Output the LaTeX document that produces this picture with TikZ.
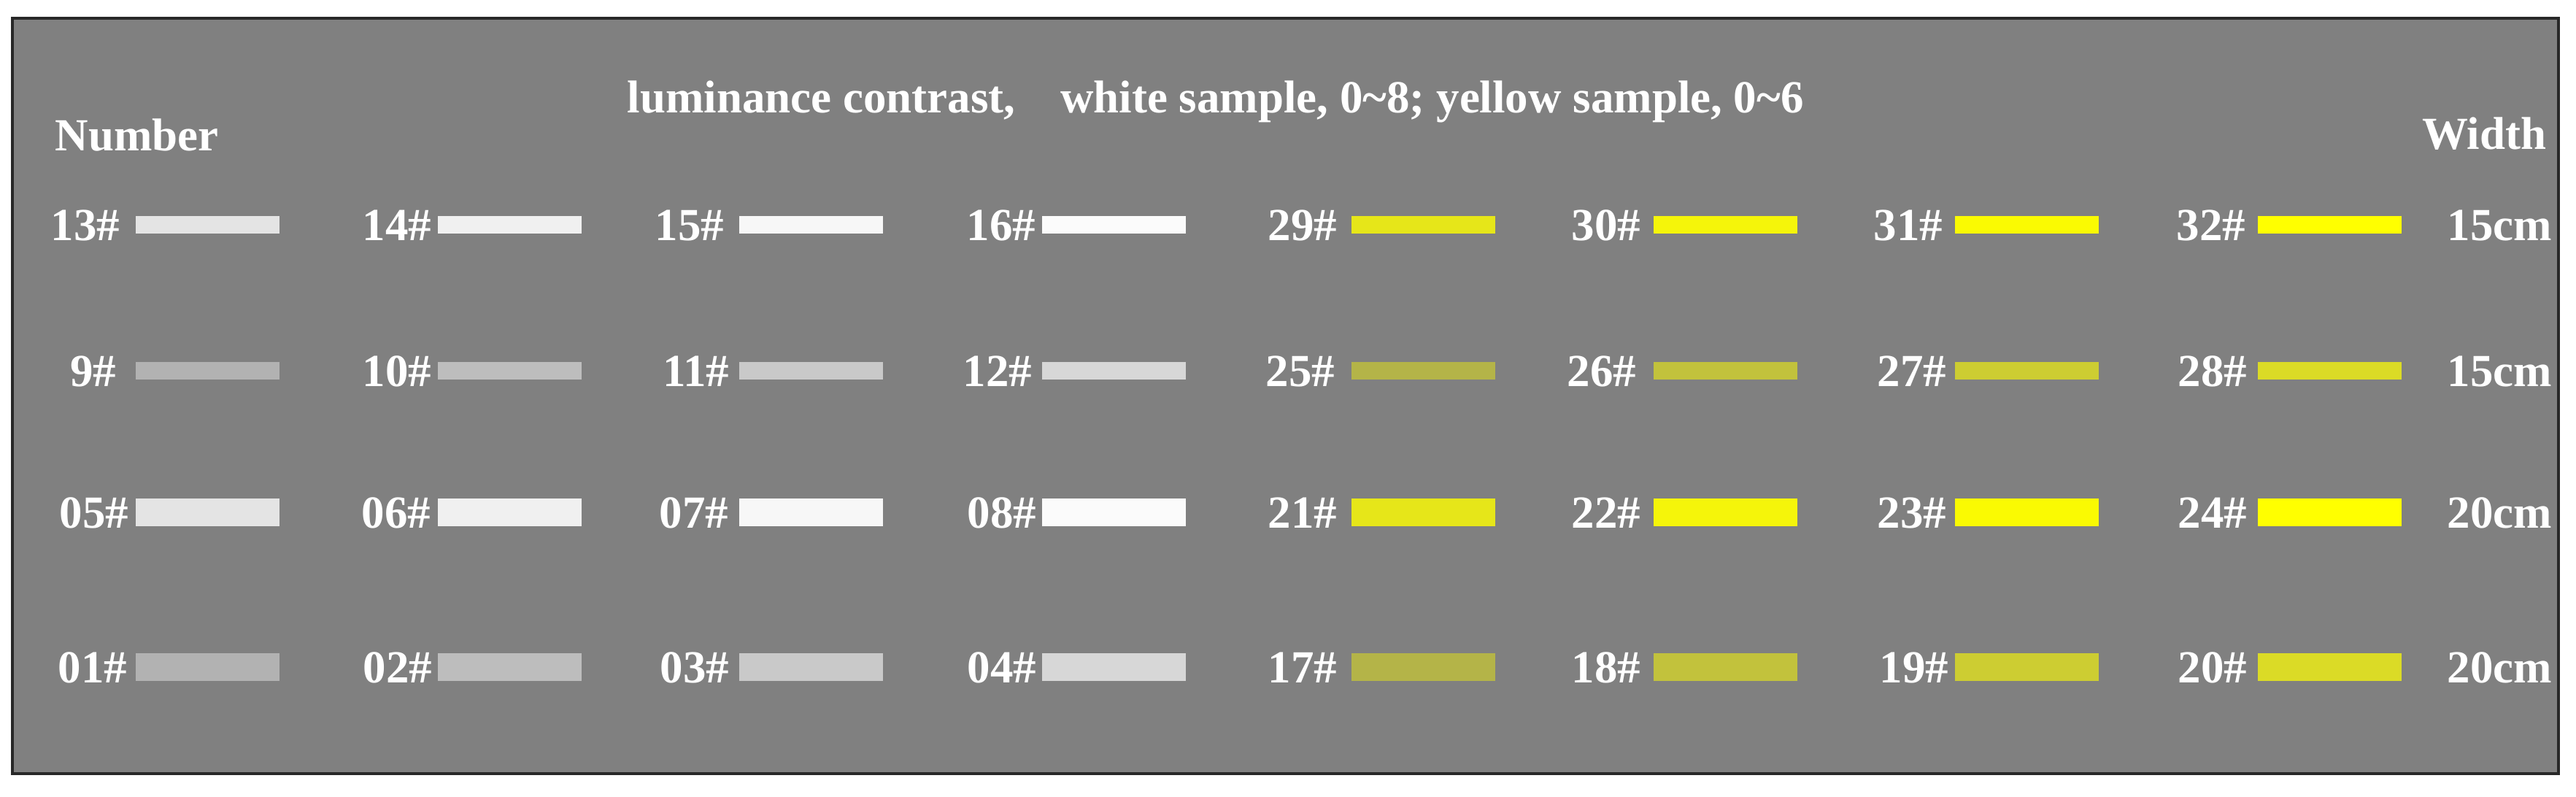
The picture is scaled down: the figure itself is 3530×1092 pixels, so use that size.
\documentclass[tikz,border=0pt]{standalone}
\usepackage{fontspec}
\setmainfont{Liberation Serif}
\definecolor{bg}{RGB}{128,128,128}
\definecolor{frame}{RGB}{40,40,40}
% bright white samples
\definecolor{wa}{RGB}{228,228,228}
\definecolor{wb}{RGB}{240,240,240}
\definecolor{wc}{RGB}{247,247,247}
\definecolor{wd}{RGB}{251,251,251}
% grey samples
\definecolor{ga}{RGB}{178,178,178}
\definecolor{gb}{RGB}{189,189,189}
\definecolor{gc}{RGB}{201,201,201}
\definecolor{gd}{RGB}{215,215,215}
% bright yellow samples
\definecolor{ya}{RGB}{230,230,25}
\definecolor{yb}{RGB}{245,245,10}
\definecolor{yc}{RGB}{250,250,2}
\definecolor{yd}{RGB}{255,255,0}
% dim yellow samples
\definecolor{oa}{RGB}{180,180,72}
\definecolor{ob}{RGB}{194,194,60}
\definecolor{oc}{RGB}{205,205,50}
\definecolor{od}{RGB}{219,219,38}
\newcommand{\smp}[7]{% name, label, bar left, label right, y centre, height, colour
  \node[samplebar, minimum height=#6*0.01cm, fill=#7] (b#1) at (#3+98.5,#5) {};
  \node[lbl, anchor=base east] (l#1) at (#4,#5+22) {#2\#};
}
\begin{document}
\begin{tikzpicture}[x=0.01cm,y=-0.01cm,
  lbl/.style={text=white, font=\bfseries\fontsize{17.9}{20}\selectfont, inner sep=0pt},
  samplebar/.style={draw=none, inner sep=0pt, minimum width=1.97cm}]
\useasboundingbox[fill=white] (0,0) rectangle (3530,1092);
\draw[fill=bg, draw=frame, line width=0.04cm] (17,25) rectangle (3506,1060);
% headings
\node[lbl, anchor=base west] (title) at (859,155) {luminance contrast,\hspace{0.62cm}white sample, 0\textasciitilde8; yellow sample, 0\textasciitilde6};
\node[lbl, anchor=base west] (number) at (75,207) {Number};
\node[lbl, anchor=base east] (width) at (3490,205) {Width};
% row 1 (y 308, 15cm)
\smp{13}{13}{186}{165}{308}{24}{wa}
\smp{14}{14}{600}{592}{308}{24}{wb}
\smp{15}{15}{1013}{993}{308}{24}{wc}
\smp{16}{16}{1428}{1420}{308}{24}{wd}
\smp{29}{29}{1852}{1833}{308}{24}{ya}
\smp{30}{30}{2266}{2249}{308}{24}{yb}
\smp{31}{31}{2679}{2663}{308}{24}{yc}
\smp{32}{32}{3094}{3078}{308}{24}{yd}
\node[lbl, anchor=base west] (w1) at (3353,330) {15cm};
% row 2 (y 508, 15cm)
\smp{9}{9}{186}{160}{508}{24}{ga}
\smp{10}{10}{600}{592}{508}{24}{gb}
\smp{11}{11}{1013}{1000}{508}{24}{gc}
\smp{12}{12}{1428}{1415}{508}{24}{gd}
\smp{25}{25}{1852}{1830}{508}{24}{oa}
\smp{26}{26}{2266}{2243}{508}{24}{ob}
\smp{27}{27}{2679}{2668}{508}{24}{oc}
\smp{28}{28}{3094}{3080}{508}{24}{od}
\node[lbl, anchor=base west] (w2) at (3353,530) {15cm};
% row 3 (y 702, 20cm)
\smp{05}{05}{186}{177}{702}{38}{wa}
\smp{06}{06}{600}{591}{702}{38}{wb}
\smp{07}{07}{1013}{999}{702}{38}{wc}
\smp{08}{08}{1428}{1421}{702}{38}{wd}
\smp{21}{21}{1852}{1833}{702}{38}{ya}
\smp{22}{22}{2266}{2249}{702}{38}{yb}
\smp{23}{23}{2679}{2668}{702}{38}{yc}
\smp{24}{24}{3094}{3080}{702}{38}{yd}
\node[lbl, anchor=base west] (w3) at (3353,724) {20cm};
% row 4 (y 914, 20cm)
\smp{01}{01}{186}{175}{914}{38}{ga}
\smp{02}{02}{600}{593}{914}{38}{gb}
\smp{03}{03}{1013}{1000}{914}{38}{gc}
\smp{04}{04}{1428}{1421}{914}{38}{gd}
\smp{17}{17}{1852}{1833}{914}{38}{oa}
\smp{18}{18}{2266}{2249}{914}{38}{ob}
\smp{19}{19}{2679}{2671}{914}{38}{oc}
\smp{20}{20}{3094}{3080}{914}{38}{od}
\node[lbl, anchor=base west] (w4) at (3353,936) {20cm};
\end{tikzpicture}
\end{document}
